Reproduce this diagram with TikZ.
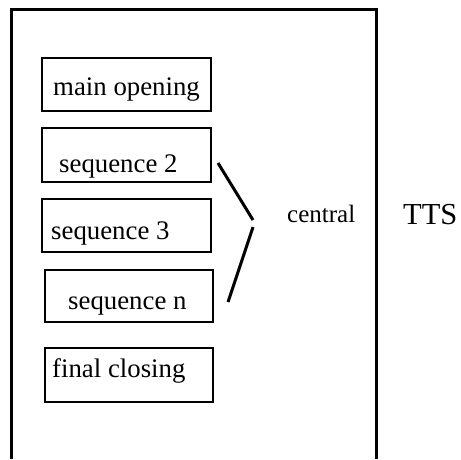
\documentclass[tikz,border=0pt]{standalone}
\usepackage{fontspec}
\setmainfont{Liberation Serif}
\begin{document}
\begin{tikzpicture}[x=1pt,y=-1pt,
  seqbox/.style={draw,line width=2.4pt,inner sep=0pt},
  boxtext/.style={inner sep=0pt,anchor=base west,font=\fontsize{26.8}{30}\selectfont},
  sidetext/.style={inner sep=0pt,anchor=base west,font=\fontsize{25}{30}\selectfont},
  bracket/.style={line width=3pt}]
\useasboundingbox (0,0) rectangle (461,459);
% open frame of the TTS
\draw[line width=3pt] (11,459) -- (11,9) -- (376,9) -- (376,459);
% program parts
\node[seqbox,minimum width=169pt,minimum height=53pt] (b1) at (126.5,84.5) {};
\node[boxtext] (t1) at (53,95) {main opening};
\node[seqbox,minimum width=169pt,minimum height=54pt] (b2) at (126.5,155) {};
\node[boxtext] (t2) at (59,172) {sequence 2};
\node[seqbox,minimum width=169pt,minimum height=53pt] (b3) at (126.5,225.5) {};
\node[boxtext] (t3) at (51,239) {sequence 3};
\node[seqbox,minimum width=168pt,minimum height=52pt] (b4) at (129,296) {};
\node[boxtext] (t4) at (68,309) {sequence n};
\node[seqbox,minimum width=168pt,minimum height=54pt] (b5) at (129,375) {};
\node[boxtext] (t5) at (52,377) {final closing};
% labels
\node[sidetext] (central) at (287,222) {central};
\node[sidetext,font=\fontsize{30.5}{34}\selectfont] (tts) at (403,224) {TTS};
% bracket grouping the sequences
\coordinate (bu) at (218,163);
\coordinate (tipu) at (253,220);
\coordinate (tipl) at (253,227);
\coordinate (bl) at (228,302);
\draw[bracket] (bu) -- (tipu);
\draw[bracket] (tipl) -- (bl);
\end{tikzpicture}
\end{document}
